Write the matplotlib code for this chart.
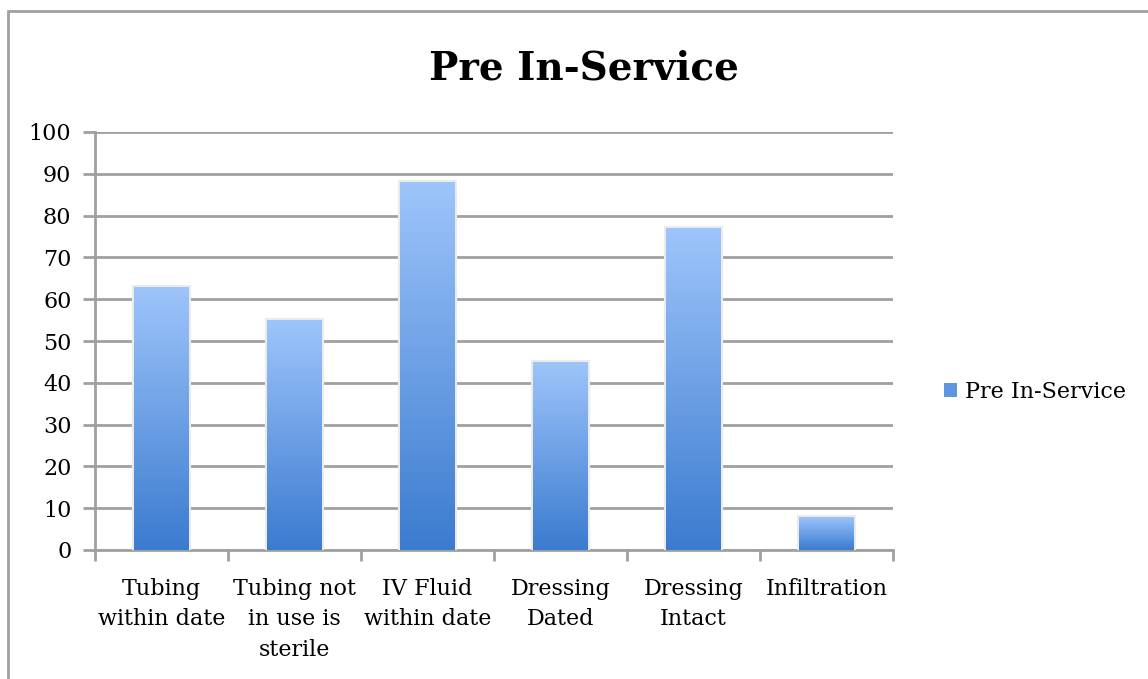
import numpy as np
import matplotlib
matplotlib.use("Agg")
import matplotlib.pyplot as plt
from matplotlib.colors import LinearSegmentedColormap
from matplotlib.patches import Rectangle, Patch
import matplotlib.patheffects as pe

categories = ["Tubing\nwithin date", "Tubing not\nin use is\nsterile", "IV Fluid\nwithin date",
              "Dressing\nDated", "Dressing\nIntact", "Infiltration"]
values = [63, 55, 88, 45, 77, 8]
series_name = "Pre In-Service"
title = "Pre In-Service"
yticks = list(range(0, 101, 10))

FONT = "DejaVu Serif"
GRID = "#a0a0a0"
TOP = "#9ec5fb"
BOTTOM = "#3b7bcf"
FS = 16

fig = plt.figure(figsize=(11.48, 6.79), dpi=100)
ax = fig.add_axes([95/1148, 1-550/679, 798/1148, 418/679])

x = np.arange(len(categories))
bars = ax.bar(x, values, width=0.41, facecolor="none", edgecolor="none", zorder=3)
cmap = LinearSegmentedColormap.from_list("g", [BOTTOM, TOP])
grad = np.linspace(0, 1, 256).reshape(-1, 1)
for b in bars:
    b.set_path_effects([pe.Stroke(linewidth=3, foreground="#ebebeb"), pe.Normal()])
    b.set_edgecolor("#ebebeb")
    b.set_linewidth(0.01)
    x0, y0 = b.get_x(), b.get_y()
    w, h = b.get_width(), b.get_height()
    im = ax.imshow(grad, extent=(x0, x0 + w, y0, y0 + h), origin="lower",
                   cmap=cmap, aspect="auto", zorder=4, interpolation="bilinear")
    im.set_clip_path(b)

ax.set_xlim(-0.5, len(categories) - 0.5)
ax.set_ylim(0, 100)
ax.set_yticks(yticks)
ax.set_yticklabels([str(t) for t in yticks], fontsize=FS, family=FONT)
ax.set_xticks(x)
ax.set_xticklabels(categories, fontsize=FS, family=FONT, linespacing=1.5, va="top")
ax.set_xticks(np.arange(-0.5, len(categories), 1), minor=True)
ax.tick_params(axis="x", which="major", length=0, pad=20)
ax.tick_params(axis="x", which="minor", length=8, width=2, color=GRID, direction="out")
ax.tick_params(axis="y", length=9, width=2, color=GRID, direction="out", pad=8)
ax.yaxis.grid(True, color=GRID, linewidth=2, zorder=0)
ax.set_axisbelow(True)
for s in ["top", "right"]:
    ax.spines[s].set_visible(False)
for s in ["left", "bottom"]:
    ax.spines[s].set_color(GRID)
    ax.spines[s].set_linewidth(2)

fig.text(584/1148, 1-68/679, title, ha="center", va="center", fontsize=28,
         fontweight="bold", family=FONT)

handle = Patch(facecolor="#5f96e0", edgecolor="none")
fig.legend([handle], [series_name], loc="center left", bbox_to_anchor=(935/1148, 1-392/679),
           frameon=False, prop={"family": FONT, "size": FS}, handlelength=0.6,
           handleheight=0.6, handletextpad=0.35, borderaxespad=0)

border = Rectangle((8/1148, -0.1), 1.2, 1-11/679 + 0.1, transform=fig.transFigure,
                   fill=False, edgecolor=GRID, linewidth=2)
fig.patches.append(border)

fig.savefig("out.png", dpi=100)
